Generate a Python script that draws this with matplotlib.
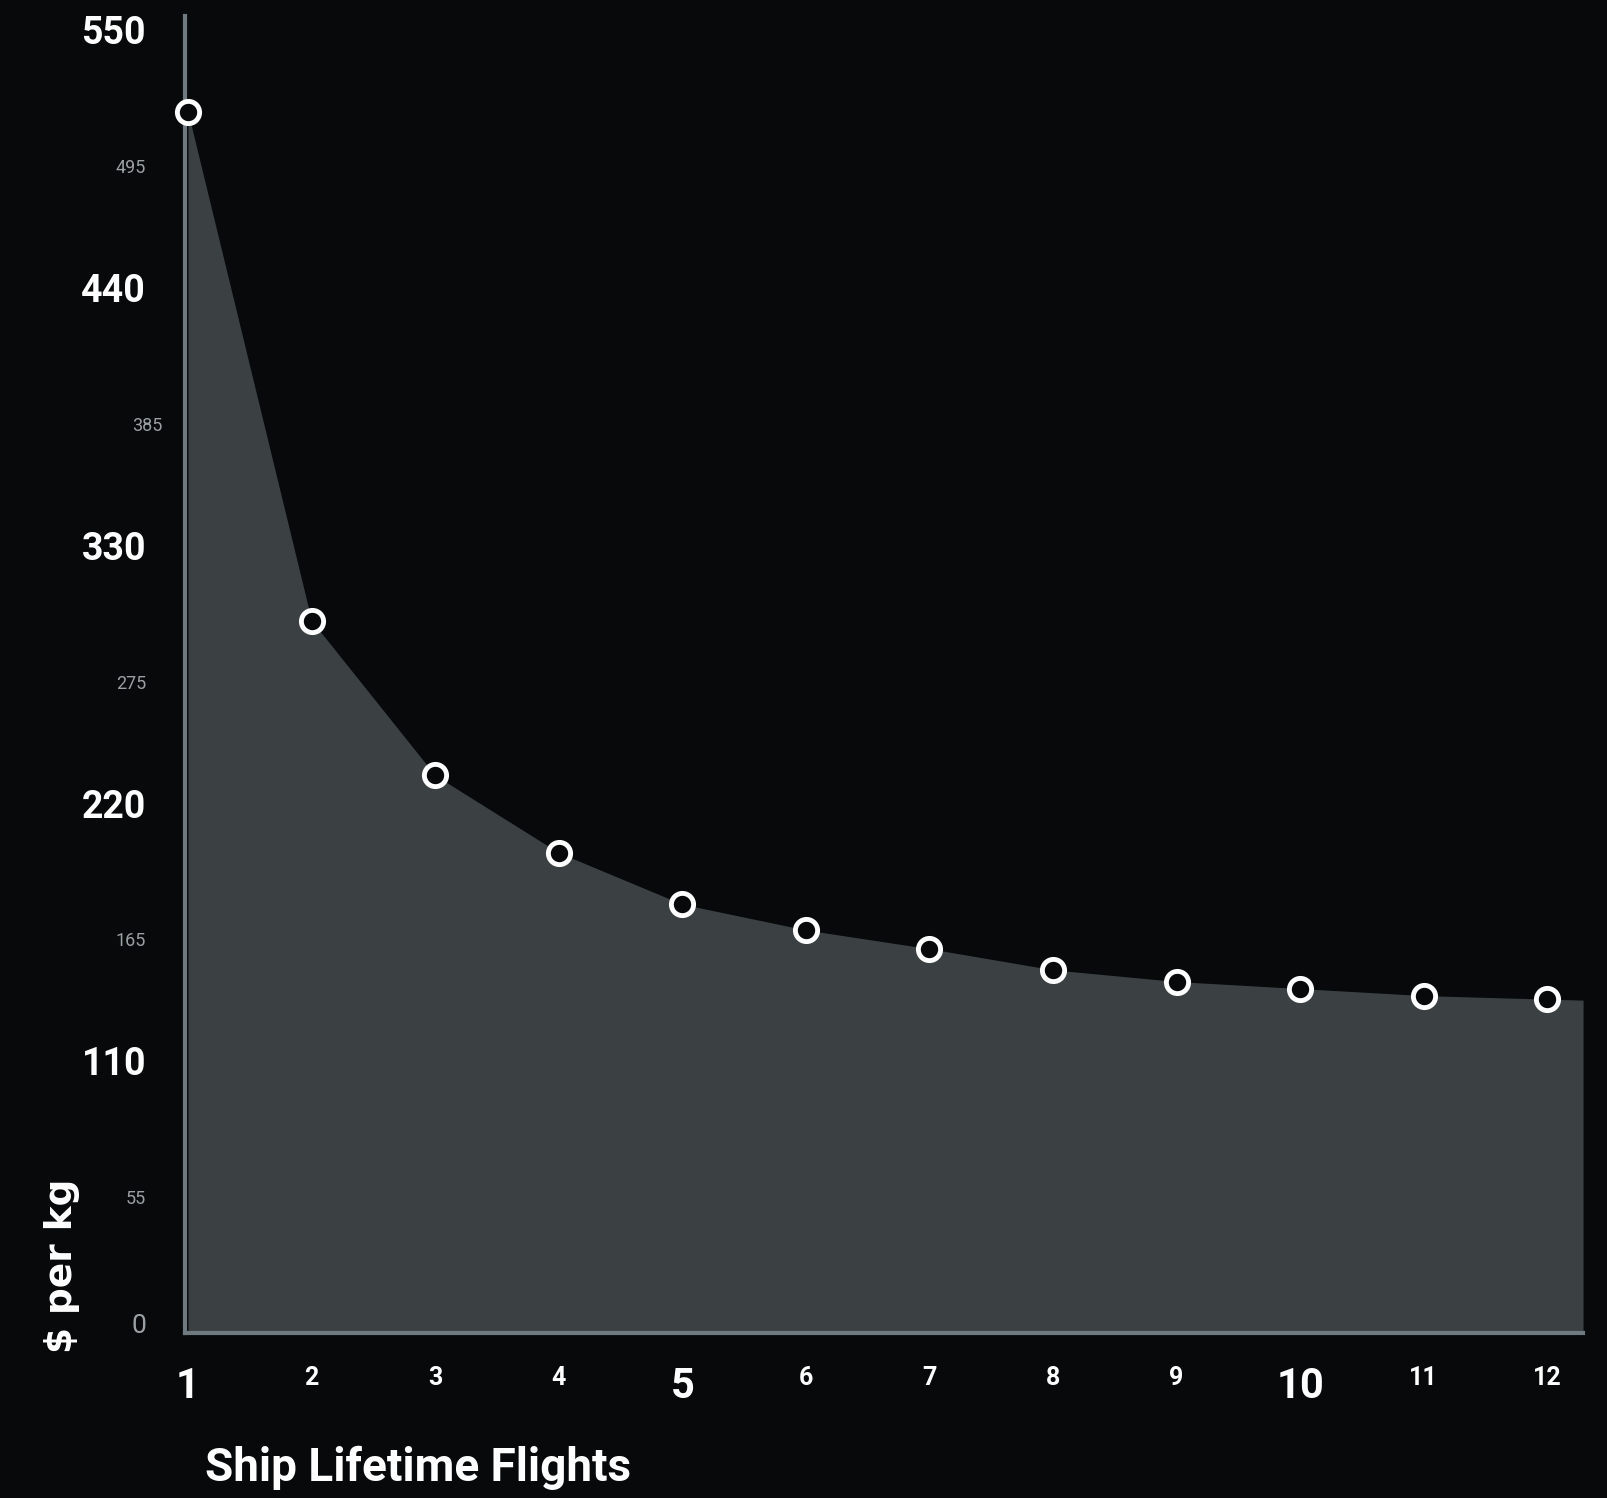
import matplotlib.pyplot as plt
import numpy as np

# data
flights = [1, 2, 3, 4, 5, 6, 7, 8, 9, 10, 11, 12]
cost_per_kg = [521, 304, 238, 205, 183, 172, 164, 155, 150, 147, 144, 142.5]

y_ticks = [0, 55, 110, 165, 220, 275, 330, 385, 440, 495, 550]
y_big = [110, 220, 330, 440, 550]
x_big = [1, 5, 10]

bg = '#07090b'
fill_col = '#3b4142'
axis_col = '#6f7a80'
minor_col = '#9aa0a3'

plt.rcParams['font.family'] = ['Roboto', 'DejaVu Sans']

fig = plt.figure(figsize=(16.08, 14.98), dpi=100, facecolor=bg)
ax = fig.add_axes([0.115, 0.1101, 0.8695, 0.8792])
ax.set_facecolor(bg)

x_lo, x_hi = 0.975, 12.29
ax.set_xlim(x_lo, x_hi)
ax.set_ylim(0, 562)

# area continues a bit past the last flight
x_fill = flights + [x_hi]
y_fill = cost_per_kg + [cost_per_kg[-1] + (cost_per_kg[-1] - cost_per_kg[-2]) * (x_hi - flights[-1])]
ax.fill_between(x_fill, y_fill, 0, color=fill_col, lw=0, zorder=1)

ax.plot(flights, cost_per_kg, 'o', ms=16, mfc=bg, mec='white', mew=3.5,
        clip_on=False, zorder=5)

for s in ['top', 'right']:
    ax.spines[s].set_visible(False)
for s in ['left', 'bottom']:
    ax.spines[s].set_color(axis_col)
    ax.spines[s].set_linewidth(3)
    ax.spines[s].set_zorder(3)

# y ticks
ax.set_yticks(y_ticks)
ax.set_yticklabels([str(v) for v in y_ticks])
ax.tick_params(axis='y', length=0, pad=28)
for lab, v in zip(ax.get_yticklabels(), y_ticks):
    lab.set_va('baseline')
    if v in y_big:
        lab.set_fontsize(27)
        lab.set_fontweight('bold')
        lab.set_color('white')
    elif v == 0:
        lab.set_fontsize(19)
        lab.set_color(minor_col)
    else:
        lab.set_fontsize(13)
        lab.set_color(minor_col)
    if v == 385:
        lab.set_x(0.0115)

# x ticks
ax.set_xticks(flights)
ax.set_xticklabels([str(f) for f in flights])
ax.tick_params(axis='x', length=0, pad=24)
for lab, f in zip(ax.get_xticklabels(), flights):
    lab.set_va('top')
    lab.set_color('white')
    lab.set_fontweight('bold')
    lab.set_fontsize(30 if f in x_big else 18)

fig.text(62 / 1608, 1 - 1353 / 1498, '$ per kg', rotation=90, ha='center', va='bottom',
         fontsize=27, fontweight='bold', color='white', family='DejaVu Sans')
fig.text(205 / 1608, 0.02, 'Ship Lifetime Flights', ha='left', va='center',
         fontsize=33, fontweight='bold', color='white')

fig.savefig('out.png', dpi=100, facecolor=bg)
